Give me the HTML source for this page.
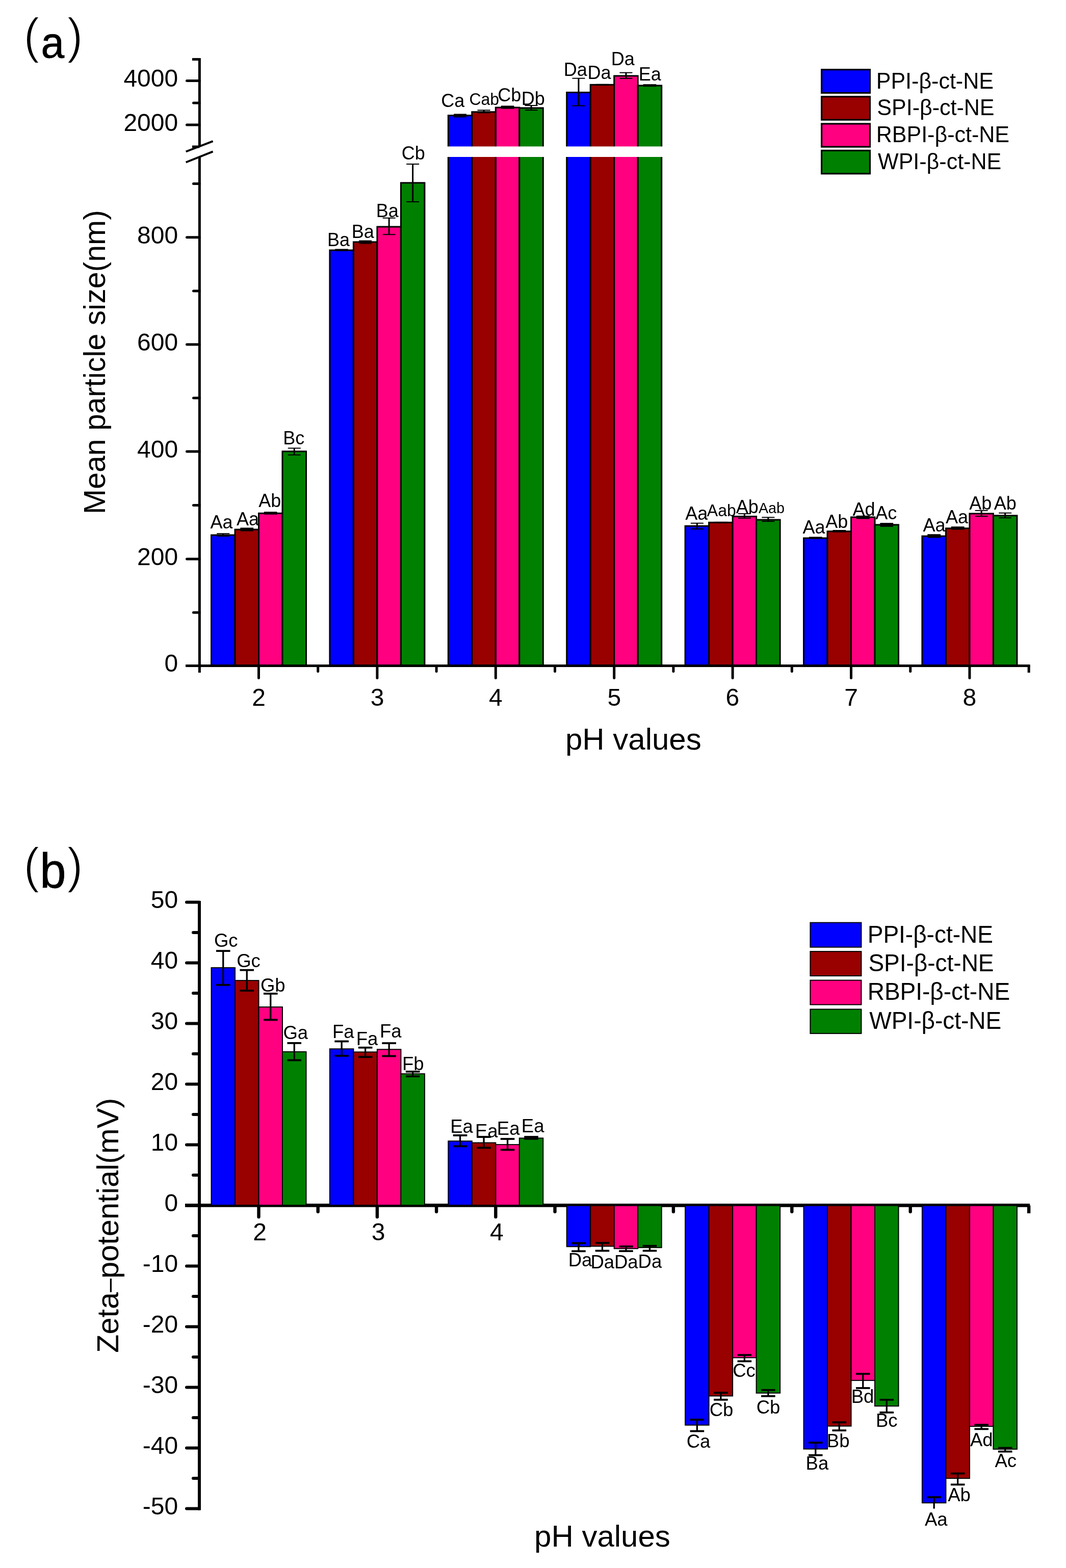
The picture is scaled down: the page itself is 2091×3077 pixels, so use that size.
<!DOCTYPE html>
<html><head><meta charset="utf-8"><title>Mean particle size and zeta-potential</title>
<style>html,body{margin:0;padding:0;background:#fff;} svg{display:block;} text{font-family:'Liberation Sans', Arial, sans-serif;fill:#000;}</style>
</head><body>
<svg width="2091" height="3077" viewBox="0 0 2091 3077">
<rect x="0" y="0" width="2091" height="3077" fill="#fff"/>
<text transform="translate(46.24 104.1) scale(1 1.04)" font-size="94.5" stroke="#fff" stroke-width="1.8">(</text>
<text transform="translate(80.62 113.4) scale(1 1.04)" font-size="82" stroke="#000" stroke-width="0.8">a</text>
<text transform="translate(131.35 104.1) scale(1 1.04)" font-size="94.5" stroke="#fff" stroke-width="1.8">)</text>
<g stroke="#000">
<rect x="414.5" y="1050" width="46.5" height="256.5" fill="#0000ff" stroke="#000" stroke-width="3"/>
<rect x="461" y="1039.1" width="46.5" height="267.4" fill="#990000" stroke="#000" stroke-width="3"/>
<rect x="507.5" y="1007.3" width="46.5" height="299.2" fill="#ff0080" stroke="#000" stroke-width="3"/>
<rect x="554" y="885.8" width="46.5" height="420.7" fill="#008000" stroke="#000" stroke-width="3"/>
<rect x="646.9" y="491" width="46.5" height="815.5" fill="#0000ff" stroke="#000" stroke-width="3"/>
<rect x="693.4" y="474.9" width="46.5" height="831.6" fill="#990000" stroke="#000" stroke-width="3"/>
<rect x="739.9" y="445" width="46.5" height="861.5" fill="#ff0080" stroke="#000" stroke-width="3"/>
<rect x="786.4" y="358.8" width="46.5" height="947.7" fill="#008000" stroke="#000" stroke-width="3"/>
<rect x="879.3" y="226.6" width="46.5" height="1079.9" fill="#0000ff" stroke="#000" stroke-width="3"/>
<rect x="925.8" y="219.7" width="46.5" height="1086.8" fill="#990000" stroke="#000" stroke-width="3"/>
<rect x="972.3" y="211" width="46.5" height="1095.5" fill="#ff0080" stroke="#000" stroke-width="3"/>
<rect x="1018.8" y="211.9" width="46.5" height="1094.6" fill="#008000" stroke="#000" stroke-width="3"/>
<rect x="1111.7" y="181.4" width="46.5" height="1125.1" fill="#0000ff" stroke="#000" stroke-width="3"/>
<rect x="1158.2" y="166.3" width="46.5" height="1140.2" fill="#990000" stroke="#000" stroke-width="3"/>
<rect x="1204.7" y="148.9" width="46.5" height="1157.6" fill="#ff0080" stroke="#000" stroke-width="3"/>
<rect x="1251.2" y="167.9" width="46.5" height="1138.6" fill="#008000" stroke="#000" stroke-width="3"/>
<rect x="1344.1" y="1032.2" width="46.5" height="274.3" fill="#0000ff" stroke="#000" stroke-width="3"/>
<rect x="1390.6" y="1025.3" width="46.5" height="281.2" fill="#990000" stroke="#000" stroke-width="3"/>
<rect x="1437.1" y="1013.5" width="46.5" height="293" fill="#ff0080" stroke="#000" stroke-width="3"/>
<rect x="1483.6" y="1020" width="46.5" height="286.5" fill="#008000" stroke="#000" stroke-width="3"/>
<rect x="1576.5" y="1056" width="46.5" height="250.5" fill="#0000ff" stroke="#000" stroke-width="3"/>
<rect x="1623" y="1042.7" width="46.5" height="263.8" fill="#990000" stroke="#000" stroke-width="3"/>
<rect x="1669.5" y="1014.9" width="46.5" height="291.6" fill="#ff0080" stroke="#000" stroke-width="3"/>
<rect x="1716" y="1029.8" width="46.5" height="276.7" fill="#008000" stroke="#000" stroke-width="3"/>
<rect x="1808.9" y="1052.1" width="46.5" height="254.4" fill="#0000ff" stroke="#000" stroke-width="3"/>
<rect x="1855.4" y="1036.8" width="46.5" height="269.7" fill="#990000" stroke="#000" stroke-width="3"/>
<rect x="1901.9" y="1007.9" width="46.5" height="298.6" fill="#ff0080" stroke="#000" stroke-width="3"/>
<rect x="1948.4" y="1011.8" width="46.5" height="294.7" fill="#008000" stroke="#000" stroke-width="3"/>
</g>
<rect x="868" y="287.4" width="440" height="20.6" fill="#fff"/>
<g stroke="#000">
<line x1="437.75" y1="1047.2" x2="437.75" y2="1052" stroke-width="3" stroke-linecap="butt"/>
<line x1="425.25" y1="1047.2" x2="450.25" y2="1047.2" stroke-width="2" stroke-linecap="butt"/>
<line x1="425.25" y1="1052" x2="450.25" y2="1052" stroke-width="2" stroke-linecap="butt"/>
<rect x="471.35" y="1035.5" width="25.8" height="7" fill="#000" stroke="none"/>
<rect x="517.85" y="1004.2" width="25.8" height="5.5" fill="#000" stroke="none"/>
<line x1="577.25" y1="879.5" x2="577.25" y2="892.7" stroke-width="3" stroke-linecap="butt"/>
<line x1="564.75" y1="879.5" x2="589.75" y2="879.5" stroke-width="2" stroke-linecap="butt"/>
<line x1="564.75" y1="892.7" x2="589.75" y2="892.7" stroke-width="2" stroke-linecap="butt"/>
<rect x="657.25" y="488.5" width="25.8" height="4.2" fill="#000" stroke="none"/>
<line x1="716.65" y1="472.6" x2="716.65" y2="477.6" stroke-width="3" stroke-linecap="butt"/>
<line x1="704.15" y1="472.6" x2="729.15" y2="472.6" stroke-width="2" stroke-linecap="butt"/>
<line x1="704.15" y1="477.6" x2="729.15" y2="477.6" stroke-width="2" stroke-linecap="butt"/>
<line x1="763.15" y1="427.8" x2="763.15" y2="460.2" stroke-width="3" stroke-linecap="butt"/>
<line x1="750.65" y1="427.8" x2="775.65" y2="427.8" stroke-width="2" stroke-linecap="butt"/>
<line x1="750.65" y1="460.2" x2="775.65" y2="460.2" stroke-width="2" stroke-linecap="butt"/>
<line x1="809.65" y1="322" x2="809.65" y2="396" stroke-width="3" stroke-linecap="butt"/>
<line x1="797.15" y1="322" x2="822.15" y2="322" stroke-width="2" stroke-linecap="butt"/>
<line x1="797.15" y1="396" x2="822.15" y2="396" stroke-width="2" stroke-linecap="butt"/>
<line x1="902.55" y1="224.4" x2="902.55" y2="229.4" stroke-width="3" stroke-linecap="butt"/>
<line x1="890.05" y1="224.4" x2="915.05" y2="224.4" stroke-width="2" stroke-linecap="butt"/>
<line x1="890.05" y1="229.4" x2="915.05" y2="229.4" stroke-width="2" stroke-linecap="butt"/>
<line x1="949.05" y1="216.3" x2="949.05" y2="221.3" stroke-width="3" stroke-linecap="butt"/>
<line x1="936.55" y1="216.3" x2="961.55" y2="216.3" stroke-width="2" stroke-linecap="butt"/>
<line x1="936.55" y1="221.3" x2="961.55" y2="221.3" stroke-width="2" stroke-linecap="butt"/>
<rect x="982.65" y="207.4" width="25.8" height="6.2" fill="#000" stroke="none"/>
<line x1="1042.05" y1="207" x2="1042.05" y2="216.1" stroke-width="3" stroke-linecap="butt"/>
<line x1="1029.55" y1="207" x2="1054.55" y2="207" stroke-width="2" stroke-linecap="butt"/>
<line x1="1029.55" y1="216.1" x2="1054.55" y2="216.1" stroke-width="2" stroke-linecap="butt"/>
<line x1="1134.95" y1="153.7" x2="1134.95" y2="207.4" stroke-width="3" stroke-linecap="butt"/>
<line x1="1122.45" y1="153.7" x2="1147.45" y2="153.7" stroke-width="2" stroke-linecap="butt"/>
<line x1="1122.45" y1="207.4" x2="1147.45" y2="207.4" stroke-width="2" stroke-linecap="butt"/>
<rect x="1168.55" y="164.8" width="25.8" height="3.2" fill="#000" stroke="none"/>
<line x1="1227.95" y1="142.6" x2="1227.95" y2="153.8" stroke-width="3" stroke-linecap="butt"/>
<line x1="1215.45" y1="142.6" x2="1240.45" y2="142.6" stroke-width="2" stroke-linecap="butt"/>
<line x1="1215.45" y1="153.8" x2="1240.45" y2="153.8" stroke-width="2" stroke-linecap="butt"/>
<rect x="1261.55" y="165.2" width="25.8" height="4.9" fill="#000" stroke="none"/>
<line x1="1367.35" y1="1026.7" x2="1367.35" y2="1038" stroke-width="3" stroke-linecap="butt"/>
<line x1="1354.85" y1="1026.7" x2="1379.85" y2="1026.7" stroke-width="2" stroke-linecap="butt"/>
<line x1="1354.85" y1="1038" x2="1379.85" y2="1038" stroke-width="2" stroke-linecap="butt"/>
<rect x="1400.95" y="1023.8" width="25.8" height="3.2" fill="#000" stroke="none"/>
<line x1="1460.35" y1="1008.1" x2="1460.35" y2="1016.8" stroke-width="3" stroke-linecap="butt"/>
<line x1="1447.85" y1="1008.1" x2="1472.85" y2="1008.1" stroke-width="2" stroke-linecap="butt"/>
<line x1="1447.85" y1="1016.8" x2="1472.85" y2="1016.8" stroke-width="2" stroke-linecap="butt"/>
<line x1="1506.85" y1="1015.3" x2="1506.85" y2="1023.1" stroke-width="3" stroke-linecap="butt"/>
<line x1="1494.35" y1="1015.3" x2="1519.35" y2="1015.3" stroke-width="2" stroke-linecap="butt"/>
<line x1="1494.35" y1="1023.1" x2="1519.35" y2="1023.1" stroke-width="2" stroke-linecap="butt"/>
<rect x="1586.85" y="1053.4" width="25.8" height="4.1" fill="#000" stroke="none"/>
<rect x="1633.35" y="1040" width="25.8" height="4.7" fill="#000" stroke="none"/>
<rect x="1679.85" y="1011.8" width="25.8" height="6.7" fill="#000" stroke="none"/>
<rect x="1726.35" y="1026.1" width="25.8" height="7.7" fill="#000" stroke="none"/>
<rect x="1819.25" y="1048.2" width="25.8" height="7.3" fill="#000" stroke="none"/>
<rect x="1865.75" y="1033.2" width="25.8" height="6.3" fill="#000" stroke="none"/>
<line x1="1925.15" y1="1001.9" x2="1925.15" y2="1013.1" stroke-width="3" stroke-linecap="butt"/>
<line x1="1912.65" y1="1001.9" x2="1937.65" y2="1001.9" stroke-width="2" stroke-linecap="butt"/>
<line x1="1912.65" y1="1013.1" x2="1937.65" y2="1013.1" stroke-width="2" stroke-linecap="butt"/>
<line x1="1971.65" y1="1006.7" x2="1971.65" y2="1016.2" stroke-width="3" stroke-linecap="butt"/>
<line x1="1959.15" y1="1006.7" x2="1984.15" y2="1006.7" stroke-width="2" stroke-linecap="butt"/>
<line x1="1959.15" y1="1016.2" x2="1984.15" y2="1016.2" stroke-width="2" stroke-linecap="butt"/>
</g>
<g stroke="#000">
<line x1="391.4" y1="114" x2="391.4" y2="287.2" stroke-width="5" stroke-linecap="butt"/>
<line x1="391.4" y1="308.3" x2="391.4" y2="1320" stroke-width="5" stroke-linecap="butt"/>
<line x1="364" y1="1306.5" x2="2020.6" y2="1306.5" stroke-width="5" stroke-linecap="butt"/>
<line x1="366.5" y1="158.5" x2="391.4" y2="158.5" stroke-width="5" stroke-linecap="round"/>
<line x1="366.5" y1="245" x2="391.4" y2="245" stroke-width="5" stroke-linecap="round"/>
<line x1="366.5" y1="465.7" x2="391.4" y2="465.7" stroke-width="5" stroke-linecap="round"/>
<line x1="366.5" y1="676" x2="391.4" y2="676" stroke-width="5" stroke-linecap="round"/>
<line x1="366.5" y1="885.9" x2="391.4" y2="885.9" stroke-width="5" stroke-linecap="round"/>
<line x1="366.5" y1="1097" x2="391.4" y2="1097" stroke-width="5" stroke-linecap="round"/>
<line x1="379.5" y1="202" x2="391.4" y2="202" stroke-width="5" stroke-linecap="round"/>
<line x1="379.5" y1="360.4" x2="391.4" y2="360.4" stroke-width="5" stroke-linecap="round"/>
<line x1="379.5" y1="570.9" x2="391.4" y2="570.9" stroke-width="5" stroke-linecap="round"/>
<line x1="379.5" y1="781.1" x2="391.4" y2="781.1" stroke-width="5" stroke-linecap="round"/>
<line x1="379.5" y1="991.4" x2="391.4" y2="991.4" stroke-width="5" stroke-linecap="round"/>
<line x1="379.5" y1="1202" x2="391.4" y2="1202" stroke-width="5" stroke-linecap="round"/>
<line x1="377" y1="116.4" x2="391.4" y2="116.4" stroke-width="5" stroke-linecap="butt"/>
<line x1="377" y1="288" x2="391.4" y2="288" stroke-width="5" stroke-linecap="butt"/>
<line x1="507.5" y1="1306.5" x2="507.5" y2="1330.5" stroke-width="5" stroke-linecap="round"/>
<line x1="739.9" y1="1306.5" x2="739.9" y2="1330.5" stroke-width="5" stroke-linecap="round"/>
<line x1="972.3" y1="1306.5" x2="972.3" y2="1330.5" stroke-width="5" stroke-linecap="round"/>
<line x1="1204.7" y1="1306.5" x2="1204.7" y2="1330.5" stroke-width="5" stroke-linecap="round"/>
<line x1="1437.1" y1="1306.5" x2="1437.1" y2="1330.5" stroke-width="5" stroke-linecap="round"/>
<line x1="1669.5" y1="1306.5" x2="1669.5" y2="1330.5" stroke-width="5" stroke-linecap="round"/>
<line x1="1901.9" y1="1306.5" x2="1901.9" y2="1330.5" stroke-width="5" stroke-linecap="round"/>
<line x1="623.7" y1="1306.5" x2="623.7" y2="1317.5" stroke-width="5" stroke-linecap="round"/>
<line x1="856.1" y1="1306.5" x2="856.1" y2="1317.5" stroke-width="5" stroke-linecap="round"/>
<line x1="1088.5" y1="1306.5" x2="1088.5" y2="1317.5" stroke-width="5" stroke-linecap="round"/>
<line x1="1320.9" y1="1306.5" x2="1320.9" y2="1317.5" stroke-width="5" stroke-linecap="round"/>
<line x1="1553.3" y1="1306.5" x2="1553.3" y2="1317.5" stroke-width="5" stroke-linecap="round"/>
<line x1="1785.7" y1="1306.5" x2="1785.7" y2="1317.5" stroke-width="5" stroke-linecap="round"/>
<line x1="2018.1" y1="1306.5" x2="2018.1" y2="1320" stroke-width="5" stroke-linecap="butt"/>
<line x1="364.7" y1="297.5" x2="417.6" y2="277.2" stroke-width="4" stroke-linecap="butt"/>
<line x1="364.7" y1="318.5" x2="417.6" y2="297.4" stroke-width="4" stroke-linecap="butt"/>
</g>
<text transform="translate(242.39 170.3) scale(1 1.0)" font-size="48">4000</text>
<text transform="translate(242.39 256.8) scale(1 1.0)" font-size="48">2000</text>
<text transform="translate(269.09 477.5) scale(1 1.0)" font-size="48">800</text>
<text transform="translate(269.09 687.8) scale(1 1.0)" font-size="48">600</text>
<text transform="translate(269.09 897.7) scale(1 1.0)" font-size="48">400</text>
<text transform="translate(269.09 1108.8) scale(1 1.0)" font-size="48">200</text>
<text transform="translate(322.48 1318.3) scale(1 1.0)" font-size="48">0</text>
<text transform="translate(494.15 1384.5) scale(1 1.0)" font-size="48">2</text>
<text transform="translate(726.69 1384.5) scale(1 1.0)" font-size="48">3</text>
<text transform="translate(959.1 1384.5) scale(1 1.0)" font-size="48">4</text>
<text transform="translate(1191.4 1384.5) scale(1 1.0)" font-size="48">5</text>
<text transform="translate(1423.59 1384.5) scale(1 1.0)" font-size="48">6</text>
<text transform="translate(1656.13 1384.5) scale(1 1.0)" font-size="48">7</text>
<text transform="translate(1888.55 1384.5) scale(1 1.0)" font-size="48">8</text>
<text transform="translate(205.7 1008.96) rotate(-90)" font-size="59">Mean particle size(nm)</text>
<text transform="translate(1108.93 1470.6) scale(1 1.0)" font-size="60">pH values</text>
<text transform="translate(412.43 1036.9) scale(1 1.02)" font-size="36">Aa</text>
<text transform="translate(464.03 1030.6) scale(1 1.02)" font-size="36">Aa</text>
<text transform="translate(507.23 994.8) scale(1 1.02)" font-size="36">Ab</text>
<text transform="translate(555.15 871.5) scale(1 1.02)" font-size="36">Bc</text>
<text transform="translate(642.05 482.8) scale(1 1.02)" font-size="36">Ba</text>
<text transform="translate(689.75 466.5) scale(1 1.02)" font-size="36">Ba</text>
<text transform="translate(737.85 425.6) scale(1 1.02)" font-size="36">Ba</text>
<text transform="translate(787.67 313.4) scale(1 1.02)" font-size="36">Cb</text>
<text transform="translate(865.17 210.4) scale(1 1.02)" font-size="36">Ca</text>
<text transform="translate(976.37 199) scale(1 1.02)" font-size="36">Cb</text>
<text transform="translate(1022.85 206) scale(1 1.02)" font-size="36">Db</text>
<text transform="translate(1105.85 148.5) scale(1 1.02)" font-size="36">Da</text>
<text transform="translate(1152.55 154.8) scale(1 1.02)" font-size="36">Da</text>
<text transform="translate(1198.75 127.6) scale(1 1.02)" font-size="36">Da</text>
<text transform="translate(1252.85 157.9) scale(1 1.02)" font-size="36">Ea</text>
<text transform="translate(1344.23 1020) scale(1 1.02)" font-size="36">Aa</text>
<text transform="translate(1443.83 1006.8) scale(1 1.02)" font-size="36">Ab</text>
<text transform="translate(1574.53 1046.7) scale(1 1.02)" font-size="36">Aa</text>
<text transform="translate(1619.13 1035.9) scale(1 1.02)" font-size="36">Ab</text>
<text transform="translate(1672.53 1011.6) scale(1 1.02)" font-size="36">Ad</text>
<text transform="translate(1717.33 1018.5) scale(1 1.02)" font-size="36">Ac</text>
<text transform="translate(1810.43 1042.7) scale(1 1.02)" font-size="36">Aa</text>
<text transform="translate(1854.93 1026.6) scale(1 1.02)" font-size="36">Aa</text>
<text transform="translate(1901.33 999.7) scale(1 1.02)" font-size="36">Ab</text>
<text transform="translate(1949.73 999.7) scale(1 1.02)" font-size="36">Ab</text>
<text transform="translate(920.38 206.4) scale(1 1.02)" font-size="32">Cab</text>
<text transform="translate(1386.84 1013.2) scale(1 1.02)" font-size="32">Aab</text>
<text transform="translate(1487.94 1007.1) scale(1 1.02)" font-size="28.7">Aab</text>
<g stroke="#000">
<rect x="1611.6" y="136.6" width="94.8" height="45.7" fill="#0000ff" stroke="#000" stroke-width="3.2"/>
</g>
<text transform="translate(1718.77 173.8) scale(1 1.04)" font-size="43">PPI-β-ct-NE</text>
<g stroke="#000">
<rect x="1611.6" y="189.7" width="94.8" height="45.4" fill="#990000" stroke="#000" stroke-width="3.2"/>
</g>
<text transform="translate(1720.35 226.3) scale(1 1.04)" font-size="43">SPI-β-ct-NE</text>
<g stroke="#000">
<rect x="1611.6" y="242.9" width="94.8" height="45.2" fill="#ff0080" stroke="#000" stroke-width="3.2"/>
</g>
<text transform="translate(1718.77 279) scale(1 1.04)" font-size="43">RBPI-β-ct-NE</text>
<g stroke="#000">
<rect x="1611.6" y="295.4" width="94.8" height="45.4" fill="#008000" stroke="#000" stroke-width="3.2"/>
</g>
<text transform="translate(1722.11 332) scale(1 1.04)" font-size="43">WPI-β-ct-NE</text>
<text transform="translate(46.24 1732.3) scale(1 1.04)" font-size="94.5" stroke="#fff" stroke-width="1.8">(</text>
<text transform="translate(78.17 1741.8) scale(1 1.04)" font-size="92" stroke="#000" stroke-width="0.8">b</text>
<text transform="translate(131.35 1732.3) scale(1 1.04)" font-size="94.5" stroke="#fff" stroke-width="1.8">)</text>
<g stroke="#000">
<line x1="391" y1="1768" x2="391" y2="2963.5" stroke-width="6" stroke-linecap="butt"/>
<line x1="363" y1="2365.4" x2="2020" y2="2365.4" stroke-width="6.8" stroke-linecap="butt"/>
<line x1="366" y1="2960.4" x2="391" y2="2960.4" stroke-width="6" stroke-linecap="round"/>
<line x1="366" y1="2841.4" x2="391" y2="2841.4" stroke-width="6" stroke-linecap="round"/>
<line x1="366" y1="2722.4" x2="391" y2="2722.4" stroke-width="6" stroke-linecap="round"/>
<line x1="366" y1="2603.4" x2="391" y2="2603.4" stroke-width="6" stroke-linecap="round"/>
<line x1="366" y1="2484.4" x2="391" y2="2484.4" stroke-width="6" stroke-linecap="round"/>
<line x1="366" y1="2365.4" x2="391" y2="2365.4" stroke-width="6" stroke-linecap="round"/>
<line x1="366" y1="2246.4" x2="391" y2="2246.4" stroke-width="6" stroke-linecap="round"/>
<line x1="366" y1="2127.4" x2="391" y2="2127.4" stroke-width="6" stroke-linecap="round"/>
<line x1="366" y1="2008.4" x2="391" y2="2008.4" stroke-width="6" stroke-linecap="round"/>
<line x1="366" y1="1889.4" x2="391" y2="1889.4" stroke-width="6" stroke-linecap="round"/>
<line x1="366" y1="1770.4" x2="391" y2="1770.4" stroke-width="6" stroke-linecap="round"/>
<line x1="379" y1="2900.9" x2="391" y2="2900.9" stroke-width="6" stroke-linecap="round"/>
<line x1="379" y1="2781.9" x2="391" y2="2781.9" stroke-width="6" stroke-linecap="round"/>
<line x1="379" y1="2662.9" x2="391" y2="2662.9" stroke-width="6" stroke-linecap="round"/>
<line x1="379" y1="2543.9" x2="391" y2="2543.9" stroke-width="6" stroke-linecap="round"/>
<line x1="379" y1="2424.9" x2="391" y2="2424.9" stroke-width="6" stroke-linecap="round"/>
<line x1="379" y1="2305.9" x2="391" y2="2305.9" stroke-width="6" stroke-linecap="round"/>
<line x1="379" y1="2186.9" x2="391" y2="2186.9" stroke-width="6" stroke-linecap="round"/>
<line x1="379" y1="2067.9" x2="391" y2="2067.9" stroke-width="6" stroke-linecap="round"/>
<line x1="379" y1="1948.9" x2="391" y2="1948.9" stroke-width="6" stroke-linecap="round"/>
<line x1="379" y1="1829.9" x2="391" y2="1829.9" stroke-width="6" stroke-linecap="round"/>
<line x1="507.5" y1="2365.4" x2="507.5" y2="2388.1" stroke-width="6.4" stroke-linecap="round"/>
<line x1="739.9" y1="2365.4" x2="739.9" y2="2388.1" stroke-width="6.4" stroke-linecap="round"/>
<line x1="972.3" y1="2365.4" x2="972.3" y2="2388.1" stroke-width="6.4" stroke-linecap="round"/>
<line x1="1204.7" y1="2365.4" x2="1204.7" y2="2388.1" stroke-width="6.4" stroke-linecap="round"/>
<line x1="1437.1" y1="2365.4" x2="1437.1" y2="2388.1" stroke-width="6.4" stroke-linecap="round"/>
<line x1="1669.5" y1="2365.4" x2="1669.5" y2="2388.1" stroke-width="6.4" stroke-linecap="round"/>
<line x1="1901.9" y1="2365.4" x2="1901.9" y2="2388.1" stroke-width="6.4" stroke-linecap="round"/>
<line x1="623.7" y1="2365.4" x2="623.7" y2="2377.7" stroke-width="6.4" stroke-linecap="round"/>
<line x1="856.1" y1="2365.4" x2="856.1" y2="2377.7" stroke-width="6.4" stroke-linecap="round"/>
<line x1="1088.5" y1="2365.4" x2="1088.5" y2="2377.7" stroke-width="6.4" stroke-linecap="round"/>
<line x1="1320.9" y1="2365.4" x2="1320.9" y2="2377.7" stroke-width="6.4" stroke-linecap="round"/>
<line x1="1553.3" y1="2365.4" x2="1553.3" y2="2377.7" stroke-width="6.4" stroke-linecap="round"/>
<line x1="1785.7" y1="2365.4" x2="1785.7" y2="2377.7" stroke-width="6.4" stroke-linecap="round"/>
<line x1="2018.1" y1="2365.4" x2="2018.1" y2="2380.9" stroke-width="6.4" stroke-linecap="butt"/>
</g>
<g stroke="#000">
<rect x="414.5" y="1899" width="46.5" height="466.1" fill="#0000ff" stroke="#000" stroke-width="2"/>
<rect x="461" y="1924.1" width="46.5" height="441" fill="#990000" stroke="#000" stroke-width="2"/>
<rect x="507.5" y="1976.1" width="46.5" height="389" fill="#ff0080" stroke="#000" stroke-width="2"/>
<rect x="554" y="2064" width="46.5" height="301.1" fill="#008000" stroke="#000" stroke-width="2"/>
<rect x="646.9" y="2058.3" width="46.5" height="306.8" fill="#0000ff" stroke="#000" stroke-width="2"/>
<rect x="693.4" y="2064.4" width="46.5" height="300.7" fill="#990000" stroke="#000" stroke-width="2"/>
<rect x="739.9" y="2059.3" width="46.5" height="305.8" fill="#ff0080" stroke="#000" stroke-width="2"/>
<rect x="786.4" y="2107.2" width="46.5" height="257.9" fill="#008000" stroke="#000" stroke-width="2"/>
<rect x="879.3" y="2239.2" width="46.5" height="125.9" fill="#0000ff" stroke="#000" stroke-width="2"/>
<rect x="925.8" y="2242.5" width="46.5" height="122.6" fill="#990000" stroke="#000" stroke-width="2"/>
<rect x="972.3" y="2246.1" width="46.5" height="119" fill="#ff0080" stroke="#000" stroke-width="2"/>
<rect x="1018.8" y="2233.4" width="46.5" height="131.7" fill="#008000" stroke="#000" stroke-width="2"/>
<rect x="1111.7" y="2365.8" width="46.5" height="80.5" fill="#0000ff" stroke="#000" stroke-width="2"/>
<rect x="1158.2" y="2365.8" width="46.5" height="79.8" fill="#990000" stroke="#000" stroke-width="2"/>
<rect x="1204.7" y="2365.8" width="46.5" height="84.4" fill="#ff0080" stroke="#000" stroke-width="2"/>
<rect x="1251.2" y="2365.8" width="46.5" height="82.4" fill="#008000" stroke="#000" stroke-width="2"/>
<rect x="1344.1" y="2365.8" width="46.5" height="430.8" fill="#0000ff" stroke="#000" stroke-width="2"/>
<rect x="1390.6" y="2365.8" width="46.5" height="373.6" fill="#990000" stroke="#000" stroke-width="2"/>
<rect x="1437.1" y="2365.8" width="46.5" height="298.5" fill="#ff0080" stroke="#000" stroke-width="2"/>
<rect x="1483.6" y="2365.8" width="46.5" height="367.9" fill="#008000" stroke="#000" stroke-width="2"/>
<rect x="1576.5" y="2365.8" width="46.5" height="477.7" fill="#0000ff" stroke="#000" stroke-width="2"/>
<rect x="1623" y="2365.8" width="46.5" height="432.7" fill="#990000" stroke="#000" stroke-width="2"/>
<rect x="1669.5" y="2365.8" width="46.5" height="343.1" fill="#ff0080" stroke="#000" stroke-width="2"/>
<rect x="1716" y="2365.8" width="46.5" height="393.4" fill="#008000" stroke="#000" stroke-width="2"/>
<rect x="1808.9" y="2365.8" width="46.5" height="583.4" fill="#0000ff" stroke="#000" stroke-width="2"/>
<rect x="1855.4" y="2365.8" width="46.5" height="535.3" fill="#990000" stroke="#000" stroke-width="2"/>
<rect x="1901.9" y="2365.8" width="46.5" height="433.2" fill="#ff0080" stroke="#000" stroke-width="2"/>
<rect x="1948.4" y="2365.8" width="46.5" height="478" fill="#008000" stroke="#000" stroke-width="2"/>
</g>
<g stroke="#000">
<line x1="437.75" y1="1866.1" x2="437.75" y2="1932.8" stroke-width="3.3" stroke-linecap="butt"/>
<line x1="423.95" y1="1866.1" x2="451.55" y2="1866.1" stroke-width="3.8" stroke-linecap="butt"/>
<line x1="423.95" y1="1932.8" x2="451.55" y2="1932.8" stroke-width="3.8" stroke-linecap="butt"/>
<line x1="484.25" y1="1903.6" x2="484.25" y2="1944" stroke-width="3.3" stroke-linecap="butt"/>
<line x1="470.45" y1="1903.6" x2="498.05" y2="1903.6" stroke-width="3.8" stroke-linecap="butt"/>
<line x1="470.45" y1="1944" x2="498.05" y2="1944" stroke-width="3.8" stroke-linecap="butt"/>
<line x1="530.75" y1="1949.9" x2="530.75" y2="2001.3" stroke-width="3.3" stroke-linecap="butt"/>
<line x1="516.95" y1="1949.9" x2="544.55" y2="1949.9" stroke-width="3.8" stroke-linecap="butt"/>
<line x1="516.95" y1="2001.3" x2="544.55" y2="2001.3" stroke-width="3.8" stroke-linecap="butt"/>
<line x1="577.25" y1="2046.9" x2="577.25" y2="2080.5" stroke-width="3.3" stroke-linecap="butt"/>
<line x1="563.45" y1="2046.9" x2="591.05" y2="2046.9" stroke-width="3.8" stroke-linecap="butt"/>
<line x1="563.45" y1="2080.5" x2="591.05" y2="2080.5" stroke-width="3.8" stroke-linecap="butt"/>
<line x1="670.15" y1="2043.5" x2="670.15" y2="2071.9" stroke-width="3.3" stroke-linecap="butt"/>
<line x1="656.35" y1="2043.5" x2="683.95" y2="2043.5" stroke-width="3.8" stroke-linecap="butt"/>
<line x1="656.35" y1="2071.9" x2="683.95" y2="2071.9" stroke-width="3.8" stroke-linecap="butt"/>
<line x1="716.65" y1="2055.8" x2="716.65" y2="2074.2" stroke-width="3.3" stroke-linecap="butt"/>
<line x1="702.85" y1="2055.8" x2="730.45" y2="2055.8" stroke-width="3.8" stroke-linecap="butt"/>
<line x1="702.85" y1="2074.2" x2="730.45" y2="2074.2" stroke-width="3.8" stroke-linecap="butt"/>
<line x1="763.15" y1="2047.1" x2="763.15" y2="2072.4" stroke-width="3.3" stroke-linecap="butt"/>
<line x1="749.35" y1="2047.1" x2="776.95" y2="2047.1" stroke-width="3.8" stroke-linecap="butt"/>
<line x1="749.35" y1="2072.4" x2="776.95" y2="2072.4" stroke-width="3.8" stroke-linecap="butt"/>
<line x1="809.65" y1="2102.9" x2="809.65" y2="2112.2" stroke-width="3.3" stroke-linecap="butt"/>
<line x1="795.85" y1="2102.9" x2="823.45" y2="2102.9" stroke-width="3.8" stroke-linecap="butt"/>
<line x1="795.85" y1="2112.2" x2="823.45" y2="2112.2" stroke-width="3.8" stroke-linecap="butt"/>
<line x1="902.55" y1="2228" x2="902.55" y2="2249.3" stroke-width="3.3" stroke-linecap="butt"/>
<line x1="888.75" y1="2228" x2="916.35" y2="2228" stroke-width="3.8" stroke-linecap="butt"/>
<line x1="888.75" y1="2249.3" x2="916.35" y2="2249.3" stroke-width="3.8" stroke-linecap="butt"/>
<line x1="949.05" y1="2231.1" x2="949.05" y2="2252.4" stroke-width="3.3" stroke-linecap="butt"/>
<line x1="935.25" y1="2231.1" x2="962.85" y2="2231.1" stroke-width="3.8" stroke-linecap="butt"/>
<line x1="935.25" y1="2252.4" x2="962.85" y2="2252.4" stroke-width="3.8" stroke-linecap="butt"/>
<line x1="995.55" y1="2235" x2="995.55" y2="2256.4" stroke-width="3.3" stroke-linecap="butt"/>
<line x1="981.75" y1="2235" x2="1009.35" y2="2235" stroke-width="3.8" stroke-linecap="butt"/>
<line x1="981.75" y1="2256.4" x2="1009.35" y2="2256.4" stroke-width="3.8" stroke-linecap="butt"/>
<line x1="1042.05" y1="2231" x2="1042.05" y2="2234.8" stroke-width="3.3" stroke-linecap="butt"/>
<line x1="1028.25" y1="2231" x2="1055.85" y2="2231" stroke-width="3.8" stroke-linecap="butt"/>
<line x1="1028.25" y1="2234.8" x2="1055.85" y2="2234.8" stroke-width="3.8" stroke-linecap="butt"/>
<line x1="1134.95" y1="2439.5" x2="1134.95" y2="2455.3" stroke-width="3.3" stroke-linecap="butt"/>
<line x1="1121.15" y1="2439.5" x2="1148.75" y2="2439.5" stroke-width="3.8" stroke-linecap="butt"/>
<line x1="1121.15" y1="2455.3" x2="1148.75" y2="2455.3" stroke-width="3.8" stroke-linecap="butt"/>
<line x1="1181.45" y1="2439.1" x2="1181.45" y2="2454.5" stroke-width="3.3" stroke-linecap="butt"/>
<line x1="1167.65" y1="2439.1" x2="1195.25" y2="2439.1" stroke-width="3.8" stroke-linecap="butt"/>
<line x1="1167.65" y1="2454.5" x2="1195.25" y2="2454.5" stroke-width="3.8" stroke-linecap="butt"/>
<line x1="1227.95" y1="2446" x2="1227.95" y2="2455.1" stroke-width="3.3" stroke-linecap="butt"/>
<line x1="1214.15" y1="2446" x2="1241.75" y2="2446" stroke-width="3.8" stroke-linecap="butt"/>
<line x1="1214.15" y1="2455.1" x2="1241.75" y2="2455.1" stroke-width="3.8" stroke-linecap="butt"/>
<line x1="1274.45" y1="2444.9" x2="1274.45" y2="2454.5" stroke-width="3.3" stroke-linecap="butt"/>
<line x1="1260.65" y1="2444.9" x2="1288.25" y2="2444.9" stroke-width="3.8" stroke-linecap="butt"/>
<line x1="1260.65" y1="2454.5" x2="1288.25" y2="2454.5" stroke-width="3.8" stroke-linecap="butt"/>
<line x1="1367.35" y1="2785.9" x2="1367.35" y2="2808.4" stroke-width="3.3" stroke-linecap="butt"/>
<line x1="1353.55" y1="2785.9" x2="1381.15" y2="2785.9" stroke-width="3.8" stroke-linecap="butt"/>
<line x1="1353.55" y1="2808.4" x2="1381.15" y2="2808.4" stroke-width="3.8" stroke-linecap="butt"/>
<line x1="1413.85" y1="2733.1" x2="1413.85" y2="2746.8" stroke-width="3.3" stroke-linecap="butt"/>
<line x1="1400.05" y1="2733.1" x2="1427.65" y2="2733.1" stroke-width="3.8" stroke-linecap="butt"/>
<line x1="1400.05" y1="2746.8" x2="1427.65" y2="2746.8" stroke-width="3.8" stroke-linecap="butt"/>
<line x1="1460.35" y1="2659" x2="1460.35" y2="2671.3" stroke-width="3.3" stroke-linecap="butt"/>
<line x1="1446.55" y1="2659" x2="1474.15" y2="2659" stroke-width="3.8" stroke-linecap="butt"/>
<line x1="1446.55" y1="2671.3" x2="1474.15" y2="2671.3" stroke-width="3.8" stroke-linecap="butt"/>
<line x1="1506.85" y1="2727.8" x2="1506.85" y2="2739.7" stroke-width="3.3" stroke-linecap="butt"/>
<line x1="1493.05" y1="2727.8" x2="1520.65" y2="2727.8" stroke-width="3.8" stroke-linecap="butt"/>
<line x1="1493.05" y1="2739.7" x2="1520.65" y2="2739.7" stroke-width="3.8" stroke-linecap="butt"/>
<line x1="1599.75" y1="2831" x2="1599.75" y2="2855.6" stroke-width="3.3" stroke-linecap="butt"/>
<line x1="1585.95" y1="2831" x2="1613.55" y2="2831" stroke-width="3.8" stroke-linecap="butt"/>
<line x1="1585.95" y1="2855.6" x2="1613.55" y2="2855.6" stroke-width="3.8" stroke-linecap="butt"/>
<line x1="1646.25" y1="2791.1" x2="1646.25" y2="2807" stroke-width="3.3" stroke-linecap="butt"/>
<line x1="1632.45" y1="2791.1" x2="1660.05" y2="2791.1" stroke-width="3.8" stroke-linecap="butt"/>
<line x1="1632.45" y1="2807" x2="1660.05" y2="2807" stroke-width="3.8" stroke-linecap="butt"/>
<line x1="1692.75" y1="2696" x2="1692.75" y2="2723.9" stroke-width="3.3" stroke-linecap="butt"/>
<line x1="1678.95" y1="2696" x2="1706.55" y2="2696" stroke-width="3.8" stroke-linecap="butt"/>
<line x1="1678.95" y1="2723.9" x2="1706.55" y2="2723.9" stroke-width="3.8" stroke-linecap="butt"/>
<line x1="1739.25" y1="2746.9" x2="1739.25" y2="2771.8" stroke-width="3.3" stroke-linecap="butt"/>
<line x1="1725.45" y1="2746.9" x2="1753.05" y2="2746.9" stroke-width="3.8" stroke-linecap="butt"/>
<line x1="1725.45" y1="2771.8" x2="1753.05" y2="2771.8" stroke-width="3.8" stroke-linecap="butt"/>
<line x1="1832.15" y1="2938" x2="1832.15" y2="2960.6" stroke-width="3.3" stroke-linecap="butt"/>
<line x1="1818.35" y1="2938" x2="1845.95" y2="2938" stroke-width="3.8" stroke-linecap="butt"/>
<line x1="1878.65" y1="2891.5" x2="1878.65" y2="2913.3" stroke-width="3.3" stroke-linecap="butt"/>
<line x1="1864.85" y1="2891.5" x2="1892.45" y2="2891.5" stroke-width="3.8" stroke-linecap="butt"/>
<line x1="1864.85" y1="2913.3" x2="1892.45" y2="2913.3" stroke-width="3.8" stroke-linecap="butt"/>
<line x1="1925.15" y1="2796" x2="1925.15" y2="2804.3" stroke-width="3.3" stroke-linecap="butt"/>
<line x1="1911.35" y1="2796" x2="1938.95" y2="2796" stroke-width="3.8" stroke-linecap="butt"/>
<line x1="1911.35" y1="2804.3" x2="1938.95" y2="2804.3" stroke-width="3.8" stroke-linecap="butt"/>
<line x1="1971.65" y1="2841.4" x2="1971.65" y2="2848.5" stroke-width="3.3" stroke-linecap="butt"/>
<line x1="1957.85" y1="2841.4" x2="1985.45" y2="2841.4" stroke-width="3.8" stroke-linecap="butt"/>
<line x1="1957.85" y1="2848.5" x2="1985.45" y2="2848.5" stroke-width="3.8" stroke-linecap="butt"/>
</g>
<text transform="translate(279.8 2972.2) scale(1 1.0)" font-size="48">-50</text>
<text transform="translate(279.8 2853.2) scale(1 1.0)" font-size="48">-40</text>
<text transform="translate(279.8 2734.2) scale(1 1.0)" font-size="48">-30</text>
<text transform="translate(279.8 2615.2) scale(1 1.0)" font-size="48">-20</text>
<text transform="translate(279.8 2496.2) scale(1 1.0)" font-size="48">-10</text>
<text transform="translate(322.48 2377.2) scale(1 1.0)" font-size="48">0</text>
<text transform="translate(295.78 2258.2) scale(1 1.0)" font-size="48">10</text>
<text transform="translate(295.78 2139.2) scale(1 1.0)" font-size="48">20</text>
<text transform="translate(295.78 2020.2) scale(1 1.0)" font-size="48">30</text>
<text transform="translate(295.78 1901.2) scale(1 1.0)" font-size="48">40</text>
<text transform="translate(295.78 1782.2) scale(1 1.0)" font-size="48">50</text>
<text transform="translate(496.15 2433.5) scale(1 1.0)" font-size="48">2</text>
<text transform="translate(728.69 2433.5) scale(1 1.0)" font-size="48">3</text>
<text transform="translate(961.1 2433.5) scale(1 1.0)" font-size="48">4</text>
<text transform="translate(231.8 2654.99) rotate(-90)" font-size="59.6">Zeta<tspan font-size="48" dy="-1.6">–</tspan><tspan dy="1.6">potential(mV)</tspan></text>
<text transform="translate(1048.03 3035) scale(1 1.0)" font-size="60">pH values</text>
<text transform="translate(419.96 1858.4) scale(1 1.02)" font-size="36.5">Gc</text>
<text transform="translate(464.16 1897.8) scale(1 1.02)" font-size="36.5">Gc</text>
<text transform="translate(510.96 1946) scale(1 1.02)" font-size="36.5">Gb</text>
<text transform="translate(555.46 2039) scale(1 1.02)" font-size="36.5">Ga</text>
<text transform="translate(652.01 2036.5) scale(1 1.02)" font-size="36.5">Fa</text>
<text transform="translate(698.81 2050.7) scale(1 1.02)" font-size="36.5">Fa</text>
<text transform="translate(744.91 2035.8) scale(1 1.02)" font-size="36.5">Fa</text>
<text transform="translate(789.01 2099.9) scale(1 1.02)" font-size="36.5">Fb</text>
<text transform="translate(883.21 2222.7) scale(1 1.02)" font-size="36.5">Ea</text>
<text transform="translate(931.91 2231.7) scale(1 1.02)" font-size="36.5">Ea</text>
<text transform="translate(974.81 2226.6) scale(1 1.02)" font-size="36.5">Ea</text>
<text transform="translate(1022.81 2222) scale(1 1.02)" font-size="36.5">Ea</text>
<text transform="translate(1114.71 2485) scale(1 1.02)" font-size="36.5">Da</text>
<text transform="translate(1158.41 2489.4) scale(1 1.02)" font-size="36.5">Da</text>
<text transform="translate(1205.01 2488.8) scale(1 1.02)" font-size="36.5">Da</text>
<text transform="translate(1251.61 2488.2) scale(1 1.02)" font-size="36.5">Da</text>
<text transform="translate(1346.75 2841.1) scale(1 1.02)" font-size="36.5">Ca</text>
<text transform="translate(1391.75 2779) scale(1 1.02)" font-size="36.5">Cb</text>
<text transform="translate(1437.15 2702.1) scale(1 1.02)" font-size="36.5">Cc</text>
<text transform="translate(1483.75 2773.9) scale(1 1.02)" font-size="36.5">Cb</text>
<text transform="translate(1580.61 2884.4) scale(1 1.02)" font-size="36.5">Ba</text>
<text transform="translate(1621.81 2839.6) scale(1 1.02)" font-size="36.5">Bb</text>
<text transform="translate(1669.71 2753.4) scale(1 1.02)" font-size="36.5">Bd</text>
<text transform="translate(1717.91 2800.4) scale(1 1.02)" font-size="36.5">Bc</text>
<text transform="translate(1813.93 2994) scale(1 1.02)" font-size="36.5">Aa</text>
<text transform="translate(1859.13 2945.6) scale(1 1.02)" font-size="36.5">Ab</text>
<text transform="translate(1903.03 2838.1) scale(1 1.02)" font-size="36.5">Ad</text>
<text transform="translate(1951.53 2879.4) scale(1 1.02)" font-size="36.5">Ac</text>
<g stroke="#000">
<rect x="1589.4" y="1810.5" width="100" height="48.2" fill="#0000ff" stroke="#000" stroke-width="2"/>
</g>
<text transform="translate(1701.73 1849.9) scale(1 1.04)" font-size="46">PPI-β-ct-NE</text>
<g stroke="#000">
<rect x="1589.4" y="1867.1" width="100" height="47.9" fill="#990000" stroke="#000" stroke-width="2"/>
</g>
<text transform="translate(1703.41 1905.8) scale(1 1.04)" font-size="46">SPI-β-ct-NE</text>
<g stroke="#000">
<rect x="1589.4" y="1923.6" width="100" height="47.9" fill="#ff0080" stroke="#000" stroke-width="2"/>
</g>
<text transform="translate(1701.73 1962) scale(1 1.04)" font-size="46">RBPI-β-ct-NE</text>
<g stroke="#000">
<rect x="1589.4" y="1980.5" width="100" height="47.6" fill="#008000" stroke="#000" stroke-width="2"/>
</g>
<text transform="translate(1705.3 2018.5) scale(1 1.04)" font-size="46">WPI-β-ct-NE</text>
</svg>
</body></html>
